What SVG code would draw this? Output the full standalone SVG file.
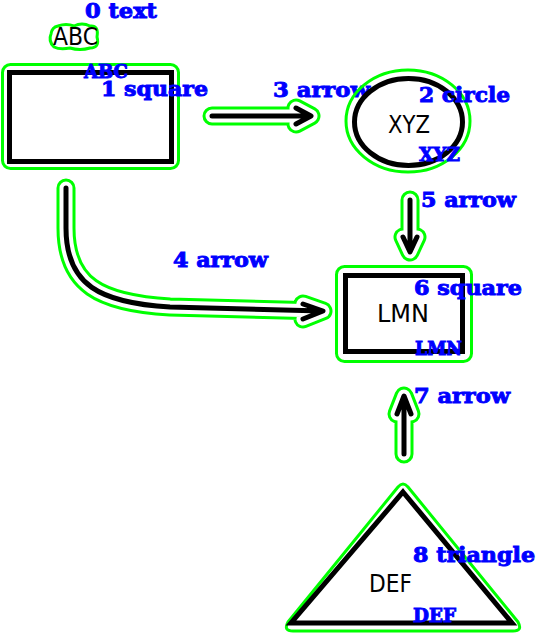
<svg xmlns="http://www.w3.org/2000/svg" width="548" height="643" viewBox="0 0 548 643">
<style>
.outline{fill:none;stroke:#00ff00;stroke-width:3;stroke-linejoin:round}
.shape{fill:none;stroke:#000;stroke-width:5}
.txt{font-family:"DejaVu Sans","Liberation Sans",sans-serif;font-size:24px;fill:#000}
.lbl{font-family:"DejaVu Serif","Liberation Serif",serif;font-weight:bold;font-size:20px;fill:#0000ff;stroke:#0000ff;stroke-width:0.9}
.sub{font-size:18px}
.cg{fill:none;stroke:#00ff00;stroke-width:19;stroke-linecap:round;stroke-linejoin:round}
.cw{fill:none;stroke:#fff;stroke-width:13;stroke-linecap:round;stroke-linejoin:round}
.cb{fill:none;stroke:#000;stroke-width:5;stroke-linecap:round;stroke-linejoin:round}
</style>
<rect width="548" height="643" fill="#fff"/>
<g id="connectors">
  <g id="arrow3">
    <path class="cg" d="M212,116 L310,116 M296,108 L311,116 L296,124"/>
    <path class="cw" d="M212,116 L310,116 M296,108 L311,116 L296,124"/>
    <path class="cb" d="M212,116 L310,116 M296,108 L311,116 L296,124"/>
    <text class="lbl" x="273" y="97" textLength="97" lengthAdjust="spacingAndGlyphs">3 arrow</text>
  </g>
  <g id="arrow4">
    <path class="cg" d="M66,188 L66,228 C66,285 100,303 170,307 L322,311 M303,304 L323,311 L303,319"/>
    <path class="cw" d="M66,188 L66,228 C66,285 100,303 170,307 L322,311 M303,304 L323,311 L303,319"/>
    <path class="cb" d="M66,188 L66,228 C66,285 100,303 170,307 L322,311 M303,304 L323,311 L303,319"/>
    <text class="lbl" x="173" y="267" textLength="95" lengthAdjust="spacingAndGlyphs">4 arrow</text>
  </g>
  <g id="arrow5">
    <path class="cg" d="M410,200 L410,251 M403,237 L410,252 L417,237"/>
    <path class="cw" d="M410,200 L410,251 M403,237 L410,252 L417,237"/>
    <path class="cb" d="M410,200 L410,251 M403,237 L410,252 L417,237"/>
    <text class="lbl" x="421" y="207" textLength="95" lengthAdjust="spacingAndGlyphs">5 arrow</text>
  </g>
  <g id="arrow7">
    <path class="cg" d="M404,454 L404,397 M397,414 L404,396 L411,414"/>
    <path class="cw" d="M404,454 L404,397 M397,414 L404,396 L411,414"/>
    <path class="cb" d="M404,454 L404,397 M397,414 L404,396 L411,414"/>
    <text class="lbl" x="414" y="403" textLength="96" lengthAdjust="spacingAndGlyphs">7 arrow</text>
  </g>
</g>
<g id="node0">
  <path class="outline" d="M58,26 Q66,23 74,26 Q82,22 90,26 Q99,25 97,37 Q100,48 90,48 Q80,51 70,48 Q60,50 54,47 Q48,41 51,34 Q52,27 58,26 Z"/>
  <text class="txt" x="53" y="45" textLength="45" lengthAdjust="spacingAndGlyphs">ABC</text>
  <text class="lbl" x="85" y="18" textLength="72" lengthAdjust="spacingAndGlyphs">0 text</text>
</g>
<g id="node1">
  <rect class="outline" x="2.5" y="64.5" width="176" height="104" rx="8"/>
  <rect class="shape" x="9.5" y="72.5" width="162" height="89"/>
  <text class="lbl sub" x="84" y="78" textLength="44" lengthAdjust="spacingAndGlyphs">ABC</text>
  <text class="lbl" x="101" y="96" textLength="107" lengthAdjust="spacingAndGlyphs">1 square</text>
</g>
<g id="node2">
  <ellipse class="outline" cx="408" cy="121" rx="62" ry="51"/>
  <ellipse class="shape" cx="408.5" cy="122" rx="54" ry="43.5"/>
  <text class="txt" x="388" y="133" textLength="42" lengthAdjust="spacingAndGlyphs">XYZ</text>
  <text class="lbl" x="419" y="102" textLength="91" lengthAdjust="spacingAndGlyphs">2 circle</text>
  <text class="lbl sub" x="419" y="161" textLength="41" lengthAdjust="spacingAndGlyphs">XYZ</text>
</g>
<g id="node6">
  <rect class="outline" x="336.5" y="266.5" width="135" height="95" rx="8"/>
  <rect class="shape" x="345.5" y="275.5" width="117" height="76"/>
  <text class="txt" x="377" y="322" textLength="52" lengthAdjust="spacingAndGlyphs">LMN</text>
  <text class="lbl" x="414" y="295" textLength="108" lengthAdjust="spacingAndGlyphs">6 square</text>
  <text class="lbl sub" x="415" y="355" textLength="47" lengthAdjust="spacingAndGlyphs">LMN</text>
</g>
<g id="node8">
  <path class="outline" d="M398,487 Q403,481 408,487 L518,622 Q523,631 513,631 L293,631 Q283,631 288,622 Z"/>
  <polygon class="shape" points="403,492 512,623 291,623"/>
  <text class="txt" x="369" y="592" textLength="43" lengthAdjust="spacingAndGlyphs">DEF</text>
  <text class="lbl" x="413" y="562" textLength="122" lengthAdjust="spacingAndGlyphs">8 triangle</text>
  <text class="lbl sub" x="413" y="622" textLength="43" lengthAdjust="spacingAndGlyphs">DEF</text>
</g>
</svg>
